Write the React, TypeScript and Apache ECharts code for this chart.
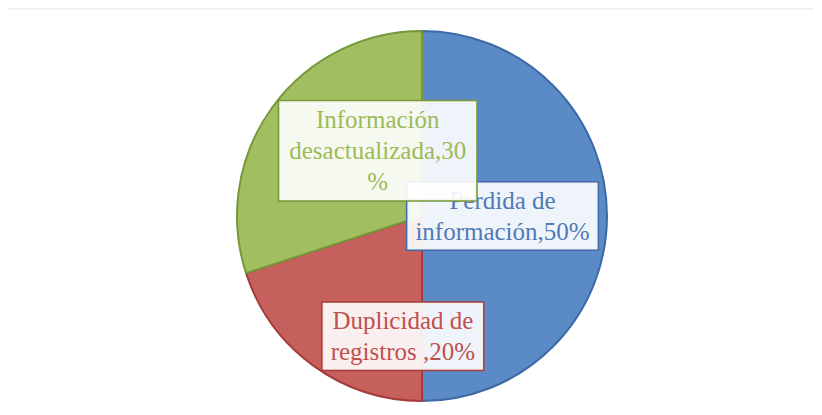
import React, { useEffect, useRef } from "react";
import * as echarts from "echarts";

const categories = ["Perdida de información", "Duplicidad de registros", "Información desactualizada"];
const values = [50, 20, 30];
const labelTexts = [
  "Perdida de\ninformación,50%",
  "Duplicidad de\nregistros ,20%",
  "Información\ndesactualizada,30\n%",
];
const fillColors = ["#5B8BC7", "#C6605C", "#A1BE60"];
const edgeColors = ["#3D69A6", "#A63C39", "#76973A"];
const textColors = ["#5079B8", "#C0504D", "#9BBB59"];
const labelOffsets = [
  [-15, 0],
  [37, 43],
  [33, -9],
];
const labelPaddings = [
  [3, 8, 2, 8],
  [3, 8, 2, 8],
  [3, 10, 3, 10],
];

export default function App() {
  const ref = useRef<HTMLDivElement>(null);
  useEffect(() => {
    if (!ref.current) return;
    const chart = echarts.init(ref.current, undefined, { renderer: "svg" });
    chart.setOption({
      animation: false,
      backgroundColor: "#ffffff",
      graphic: [
        {
          type: "rect",
          shape: { x: 7, y: 9, width: 830, height: 420 },
          style: { fill: "none", stroke: "#f2f2f2", lineWidth: 2 },
          silent: true,
        },
      ],
      series: [
        {
          type: "pie",
          center: [422, 216],
          radius: 185,
          startAngle: 90,
          clockwise: true,
          avoidLabelOverlap: false,
          labelLayout: { hideOverlap: false },
          labelLine: { show: false },
          data: categories.map((name, i) => ({
            name,
            value: values[i],
            itemStyle: {
              color: fillColors[i],
              borderColor: edgeColors[i],
              borderWidth: 2,
            },
            label: {
              show: true,
              position: "inside",
              formatter: labelTexts[i],
              offset: labelOffsets[i],
              color: textColors[i],
              fontFamily: "Liberation Serif",
              fontSize: 25,
              lineHeight: 31,
              align: "center",
              backgroundColor: "rgba(255,255,255,0.9)",
              borderColor: edgeColors[i],
              borderWidth: 1.5,
              padding: labelPaddings[i],
            },
          })),
        },
      ],
    });
    return () => chart.dispose();
  }, []);
  return <div ref={ref} style={{ width: 822, height: 415, margin: -8 }} />;
}
